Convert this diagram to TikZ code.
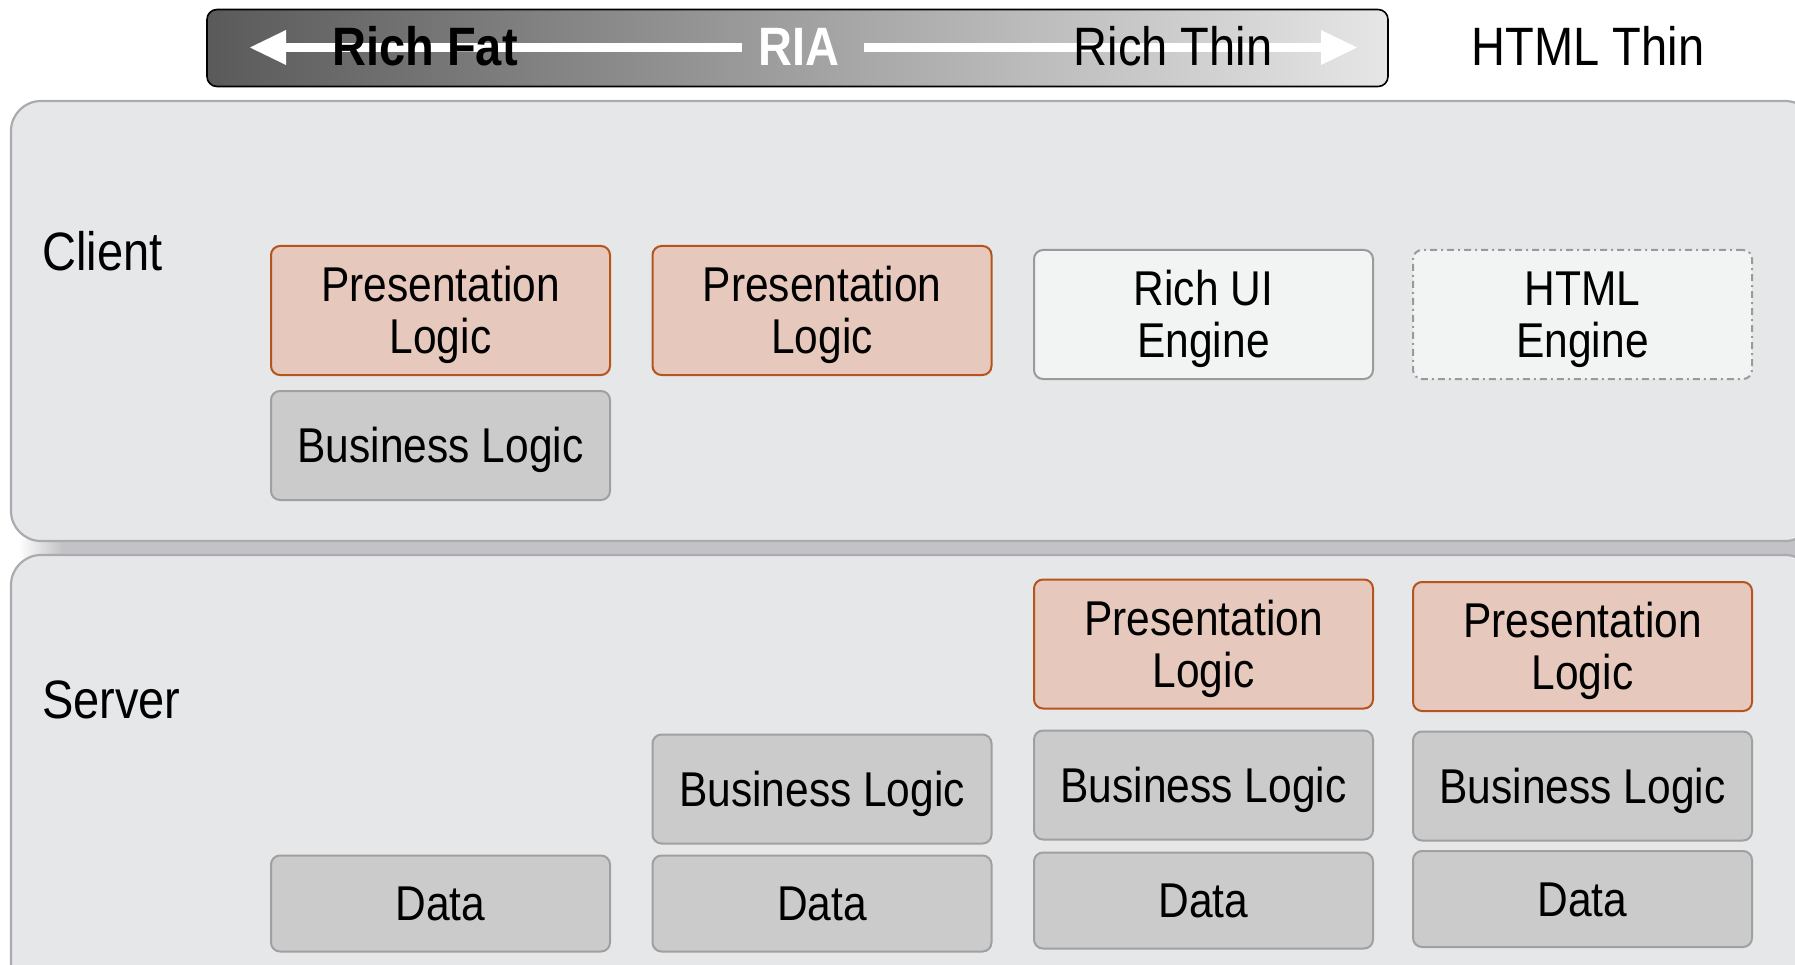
\documentclass[tikz,border=0pt]{standalone}
\usepackage{fontspec}
\setmainfont{Liberation Sans}
\usepackage{graphicx}
\definecolor{panelfill}{HTML}{E6E7E9}
\definecolor{paneldraw}{HTML}{ABABAF}
\definecolor{shadowgray}{HTML}{C3C3C7}
\definecolor{plfill}{HTML}{E6C8BD}
\definecolor{pldraw}{HTML}{B5541C}
\definecolor{grayfill}{HTML}{CBCBCB}
\definecolor{graydraw}{HTML}{A0A0A0}
\definecolor{engfill}{HTML}{F2F3F3}
\definecolor{engdraw}{HTML}{9A9A9A}
\definecolor{barleft}{HTML}{5A5A5A}
\definecolor{barright}{HTML}{E6E6E6}
\newcommand{\tx}[1]{\scalebox{1}[1.15]{\begin{tabular}{@{}c@{}}#1\end{tabular}}}
\begin{document}
\begin{tikzpicture}[x=1pt,y=-1pt,
  panel/.style={fill=panelfill,draw=paneldraw,line width=2.2pt,rounded corners=30pt},
  boxbase/.style={rectangle,rounded corners=9pt,line width=2pt,minimum width=339pt,inner sep=0pt},
  plbox/.style={boxbase,fill=plfill,draw=pldraw,minimum height=129pt},
  bizbox/.style={boxbase,fill=grayfill,draw=graydraw,minimum height=109pt},
  databox/.style={boxbase,fill=grayfill,draw=graydraw,minimum height=96pt},
  engbox/.style={boxbase,fill=engfill,draw=engdraw,minimum height=129pt},
  htmlbox/.style={engbox,dash pattern=on 7pt off 4pt on 2pt off 4pt},
  lbl/.style={inner sep=0pt,font=\fontsize{42.5}{45}\selectfont,yshift=-7pt},
  bartext/.style={inner sep=0pt,font=\fontsize{47}{50}\selectfont,yshift=-5pt},
  sidetext/.style={inner sep=0pt,font=\fontsize{47}{50}\selectfont,anchor=base west}
]
\useasboundingbox (0,0) rectangle (1795,965);
% shadow band between panels
\shade[left color=white,right color=shadowgray] (18,539) rectangle (62,557);
\fill[shadowgray] (62,539) rectangle (1800,557);
% panels
\draw[panel] (11,101) rectangle (1815,541);
\draw[panel] (11,555) rectangle (1815,1000);
% top bar
\node[draw=black,line width=1.6pt,rounded corners=10pt,left color=barleft,right color=barright,
  minimum width=1181pt,minimum height=77pt,inner sep=0pt] (bar) at (797.5,48) {};
\coordinate (lt) at (250,47.5);
\coordinate (rt) at (1357,47.5);
\coordinate (lgap) at (742,47.5);
\coordinate (rgap) at (864,47.5);
\draw[white,line width=9pt] ([xshift=20pt]lt) -- (lgap);
\draw[white,line width=9pt] (rgap) -- ([xshift=-20pt]rt);
\fill[white] (lt) -- ++(36,-17.5) -- ++(0,35) -- cycle;
\fill[white] (rt) -- ++(-36,-17.5) -- ++(0,35) -- cycle;
\node[bartext,font=\fontsize{47}{50}\selectfont\bfseries] (fat) at (425,49) {\tx{Rich Fat}};
\node[bartext,font=\fontsize{47}{50}\selectfont\bfseries,text=white] (ria) at (799,49) {\tx{RIA}};
\node[bartext] (thin) at (1173,49) {\tx{Rich Thin}};
\node[bartext] (hthin) at (1588,49) {\tx{HTML Thin}};
% side labels
\node[sidetext] (client) at (42,271) {\scalebox{1}[1.15]{Client}};
\node[sidetext] (server) at (42,718) {\scalebox{1}[1.15]{Server}};
% client boxes
\node[plbox] (c1p) at (440.5,310.5) {};
\node[plbox] (c2p) at (822,310.5) {};
\node[engbox] (c3e) at (1203.5,314.5) {};
\node[htmlbox] (c4e) at (1582.5,314.5) {};
\node[bizbox] (c1b) at (440.5,445.5) {};
\node[lbl] at (c1p) {\tx{Presentation\\Logic}};
\node[lbl] at (c2p) {\tx{Presentation\\Logic}};
\node[lbl] at (c3e) {\tx{Rich UI\\Engine}};
\node[lbl] at (c4e) {\tx{HTML\\Engine}};
\node[lbl] at (c1b) {\tx{Business Logic}};
% server boxes
\node[plbox] (s3p) at (1203.5,644) {};
\node[plbox] (s4p) at (1582.5,646.5) {};
\node[bizbox] (s2b) at (822,789) {};
\node[bizbox] (s3b) at (1203.5,785) {};
\node[bizbox] (s4b) at (1582.5,786) {};
\node[databox] (d1) at (440.5,903.5) {};
\node[databox] (d2) at (822,903.5) {};
\node[databox] (d3) at (1203.5,900.5) {};
\node[databox] (d4) at (1582.5,899) {};
\node[lbl] at (s3p) {\tx{Presentation\\Logic}};
\node[lbl] at (s4p) {\tx{Presentation\\Logic}};
\node[lbl] at (s2b) {\tx{Business Logic}};
\node[lbl] at (s3b) {\tx{Business Logic}};
\node[lbl] at (s4b) {\tx{Business Logic}};
\node[lbl] at (d1) {\tx{Data}};
\node[lbl] at (d2) {\tx{Data}};
\node[lbl] at (d3) {\tx{Data}};
\node[lbl] at (d4) {\tx{Data}};
\end{tikzpicture}
\end{document}
